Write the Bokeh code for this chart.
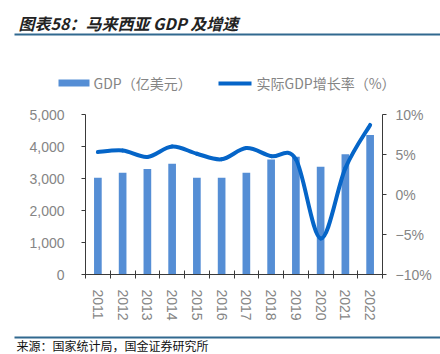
from bokeh.plotting import figure
from bokeh.models import Range1d, LinearAxis, FixedTicker, NumeralTickFormatter
from bokeh.core.properties import value
from bokeh.embed import file_html
from bokeh.resources import INLINE

years = ["2011", "2012", "2013", "2014", "2015", "2016", "2017", "2018", "2019", "2020", "2021", "2022"]
gdp = [3020, 3180, 3300, 3460, 3020, 3020, 3180, 3590, 3680, 3370, 3760, 4360]
growth = [5.3, 5.5, 4.7, 6.0, 5.1, 4.4, 5.8, 4.8, 4.4, -5.5, 3.3, 8.7]
left_ticks = [0, 1000, 2000, 3000, 4000, 5000]
right_ticks = [-10, -5, 0, 5, 10]
right_labels = ["\u221210%", "\u22125%", "0%", "5%", "10%"]
title_text = "图表58：马来西亚 GDP 及增速"
legend_bar = "GDP（亿美元）"
legend_line = "实际GDP增长率（%）"
source_text = "来源：国家统计局，国金证券研究所"

BAR = "#558ed5"
LINE = "#0565c8"
GREY = "#858585"
AXIS = "#3a3a3a"
RULE = "#31698f"
CJK = "Noto Sans CJK SC"

FL, FT, FR, FB = 85, 114, 382, 274  # frame in page pixels
n = len(years)
xs = list(range(n))

p = figure(width=440, height=354, x_range=Range1d(-0.5, n - 0.5), y_range=Range1d(0, 5000),
           output_backend="svg", toolbar_location=None,
           min_border_left=FL, min_border_right=440 - FR, min_border_top=FT, min_border_bottom=354 - FB)
p.outline_line_color = None
p.xgrid.visible = False
p.ygrid.visible = False

# page-pixel ranges for the decorations outside the plot area
p.extra_x_ranges = {"px": Range1d(FL, FR)}
p.extra_y_ranges = {"pct": Range1d(-10, 10), "py": Range1d(FB, FT)}

ya = p.yaxis[0]
ya.ticker = FixedTicker(ticks=left_ticks)
ya.formatter = NumeralTickFormatter(format="0,0")
ya.major_tick_in = 0
ya.major_tick_out = 4
ya.minor_tick_line_color = None
ya.major_label_standoff = 17
ya.axis_line_color = AXIS
ya.major_tick_line_color = AXIS
ya.major_label_text_color = GREY
ya.major_label_text_font = "Liberation Sans"
ya.major_label_text_font_size = "14px"

ra = LinearAxis(y_range_name="pct", ticker=FixedTicker(ticks=right_ticks),
                major_label_overrides=dict(zip(right_ticks, right_labels)))
ra.major_tick_in = 0
ra.major_tick_out = 4
ra.minor_tick_line_color = None
ra.major_label_standoff = 9
ra.axis_line_color = AXIS
ra.major_tick_line_color = AXIS
ra.major_label_text_color = GREY
ra.major_label_text_font = "Liberation Sans"
ra.major_label_text_font_size = "14px"
p.add_layout(ra, "right")

xa = p.xaxis[0]
xa.ticker = FixedTicker(ticks=xs, minor_ticks=[i - 0.5 for i in range(n + 1)])
xa.major_label_overrides = {i: y for i, y in zip(xs, years)}
xa.major_tick_line_color = None
xa.major_tick_in = 0
xa.major_tick_out = 0
xa.minor_tick_in = 4
xa.minor_tick_out = 4
xa.minor_tick_line_color = AXIS
xa.axis_line_color = AXIS
xa.major_label_orientation = "vertical"
xa.major_label_standoff = 11
xa.major_label_text_color = GREY
xa.major_label_text_font = "Liberation Sans"
xa.major_label_text_font_size = "14px"

p.vbar(x=xs, top=gdp, width=0.31, fill_color=BAR, line_color=None)

# smooth line: Bezier segments through the data points (Catmull-Rom tangents)
x0s, y0s, x1s, y1s, cx0s, cy0s, cx1s, cy1s = [], [], [], [], [], [], [], []
for i in range(n - 1):
    xp, yp = (xs[i - 1], growth[i - 1]) if i > 0 else (xs[i], growth[i])
    xn, yn = (xs[i + 2], growth[i + 2]) if i + 2 < n else (xs[i + 1], growth[i + 1])
    x0s.append(xs[i]); y0s.append(growth[i])
    x1s.append(xs[i + 1]); y1s.append(growth[i + 1])
    cx0s.append(xs[i] + (xs[i + 1] - xp) / 6); cy0s.append(growth[i] + (growth[i + 1] - yp) / 6)
    cx1s.append(xs[i + 1] - (xn - xs[i]) / 6); cy1s.append(growth[i + 1] - (yn - growth[i]) / 6)
p.bezier(x0=x0s, y0=y0s, x1=x1s, y1=y1s, cx0=cx0s, cy0=cy0s, cx1=cx1s, cy1=cy1s,
         line_color=LINE, line_width=4, line_cap="round", y_range_name="pct")

# decorations (page pixels), drawn at overlay level so they are not clipped to the plot area
deco = dict(x_range_name="px", y_range_name="py", level="overlay")
p.quad(left=[14, 14], right=[440, 440], top=[33, 336], bottom=[35, 338],
       fill_color=RULE, line_color=None, **deco)
p.quad(left=[58], right=[89], top=[79], bottom=[86], fill_color=BAR, line_color=None, **deco)
p.quad(left=[218], right=[251], top=[81], bottom=[85], fill_color=LINE, line_color=None, **deco)
p.text(x=[18], y=[22], text=[title_text], text_font=value(CJK), text_font_size="16px",
       text_font_style="bold italic", text_color="#222222", text_baseline="middle", **deco)
p.text(x=[93, 256], y=[82, 82], text=[legend_bar, legend_line], text_font=value(CJK),
       text_font_size="14px", text_color=GREY, text_baseline="middle", **deco)
p.text(x=[16], y=[345], text=[source_text], text_font=value(CJK), text_font_size="12px",
       text_color="#111111", text_baseline="middle", **deco)

open("out.html", "w").write(file_html(p, INLINE))
